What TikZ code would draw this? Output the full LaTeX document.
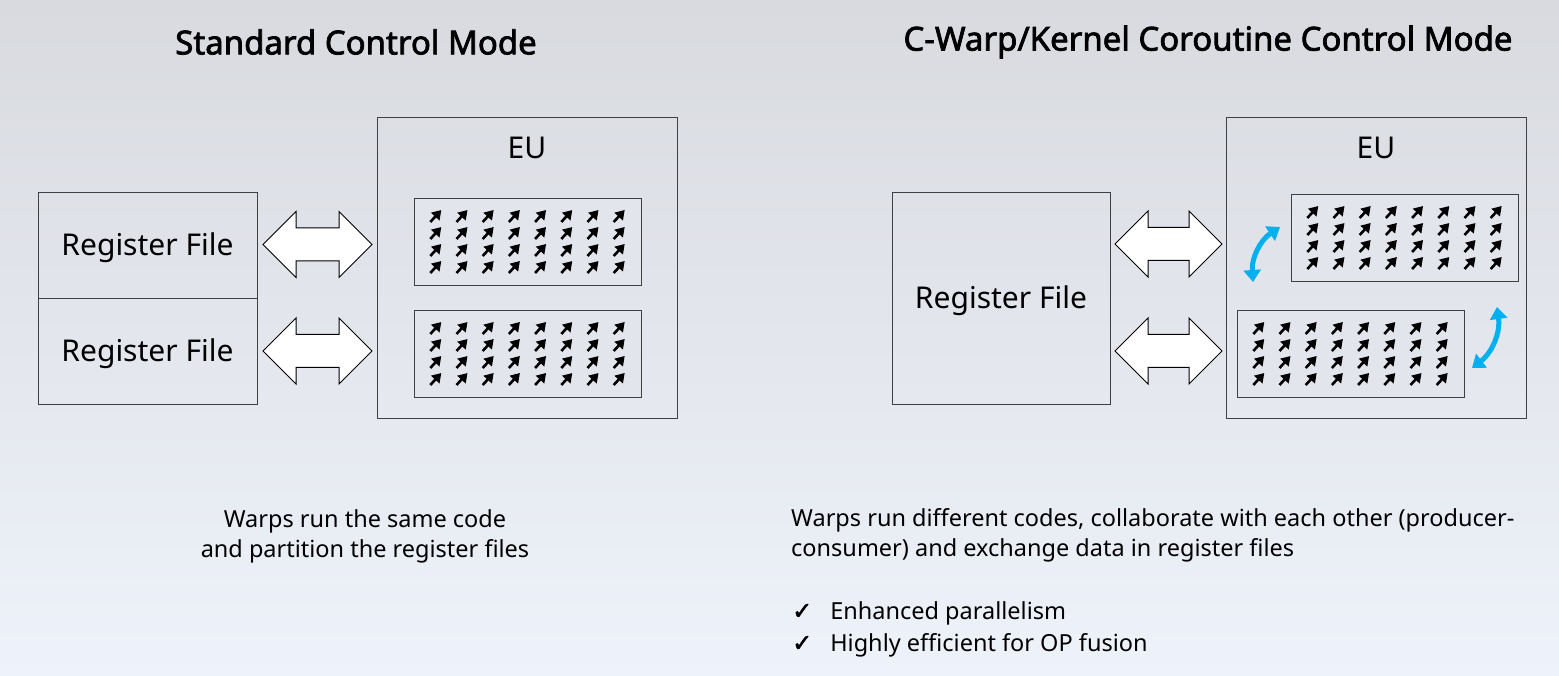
\documentclass[tikz,border=0pt]{standalone}
\usepackage{fontspec}
\setmainfont{Noto Sans}
\newfontfamily\titlefont[FakeBold=2.2]{Noto Sans}
\newfontfamily\symfont[FakeBold=2]{DejaVu Sans}
\usetikzlibrary{arrows.meta,calc}
\definecolor{bgtop}{RGB}{216,218,223}
\definecolor{bgbot}{RGB}{238,242,250}
\definecolor{boxfill}{RGB}{226,229,236}
\definecolor{cyanarr}{RGB}{0,176,240}
\tikzset{
  box/.style={draw=black!75, line width=0.8pt, inner sep=0pt},
  title/.style={font=\titlefont\fontsize{33}{38}\selectfont, anchor=center},
  rftext/.style={font=\fontsize{30}{34}\selectfont},
  eutext/.style={font=\fontsize{30}{34}\selectfont},
  body/.style={font=\fontsize{23.5}{30}\selectfont, inner sep=0pt},
  blockarrow/.style={draw=black, line width=1pt, fill=white, line join=miter},
  glyph/.pic={\draw[line width=2.6pt, -{Triangle[length=9pt,width=11pt]}] (-5.5,6) -- (5.5,-6);},
  swap/.style={draw=cyanarr, line width=5pt, {Triangle[length=12pt,width=17pt]}-{Triangle[length=12pt,width=17pt]}}
}
% block double arrow centred at #1, half-length #2
\newcommand{\blockarrow}[2]{%
  \draw[blockarrow] ($(#1)+(-#2,0)$) -- ++(33,-33) -- ++(0,16.5) -- ($(#1)+(#2-33,-16.5)$) -- ++(0,-16.5)
   -- ($(#1)+(#2,0)$) -- ++(-33,33) -- ++(0,-16.5) -- ($(#1)+(-#2+33,16.5)$) -- ++(0,16.5) -- cycle;}
\newcommand{\glyphgrid}[2]{%
  \foreach \i in {-91.7,-65.5,-39.3,-13.1,13.1,39.3,65.5,91.7}{
    \foreach \j in {-25.5,-8.5,8.5,25.5}{
      \pic at ({#1+\i},{#2+\j}) {glyph};
    }}}
\begin{document}
\begin{tikzpicture}[x=1pt,y=-1pt]
\shade[top color=bgtop, bottom color=bgbot] (0,0) rectangle (1559,676);
\useasboundingbox (0,0) rectangle (1559,676);

% ---------- Left ----------
\node[title] (t1) at (356,42) {Standard Control Mode};
\node[box, minimum width=219pt, minimum height=106pt] (rf1) at (147.5,245) {};
\node[rftext] (rf1l) at (147.5,248) {Register File};
\node[box, minimum width=219pt, minimum height=106pt] (rf2) at (147.5,351) {};
\node[rftext] (rf2l) at (147.5,354) {Register File};
\node[box, minimum width=300pt, minimum height=301pt] (eu1) at (527,267.5) {};
\node[eutext] (eu1l) at (527,148) {EU};
\node[box, fill=boxfill, minimum width=227pt, minimum height=87pt] (w1) at (527.5,241.5) {};
\node[box, fill=boxfill, minimum width=227pt, minimum height=87pt] (w2) at (527.5,353.5) {};
\glyphgrid{527.5}{241.5}
\glyphgrid{527.5}{353.5}
\coordinate (a1) at (317.5,244.5);
\coordinate (a2) at (317.5,351);
\blockarrow{a1}{54.5}
\blockarrow{a2}{54.5}

\node[body, align=center] (d1) at (365,536) {Warps run the same code\\and partition the register files};

% ---------- Right ----------
\node[title] (t2) at (1208,42) {C-Warp/Kernel Coroutine Control Mode};
\node[box, minimum width=218pt, minimum height=212pt] (rf3) at (1001,298) {};
\node[rftext] (rf3l) at (1001,301) {Register File};
\node[box, minimum width=300pt, minimum height=301pt] (eu2) at (1376,267.5) {};
\node[eutext] (eu2l) at (1376,148) {EU};
\node[box, fill=boxfill, minimum width=227pt, minimum height=87pt] (w3) at (1404.5,237.5) {};
\node[box, fill=boxfill, minimum width=227pt, minimum height=87pt] (w4) at (1350.5,353.5) {};
\glyphgrid{1404.5}{237.5}
\glyphgrid{1350.5}{353.5}
\coordinate (a3) at (1168.5,244);
\coordinate (a4) at (1168.5,351);
\blockarrow{a3}{53.5}
\blockarrow{a4}{53.5}

\coordinate (s1a) at (1253,282);
\coordinate (s1b) at (1280,227);
\coordinate (s2a) at (1497,307);
\coordinate (s2b) at (1472,368);
\draw[swap] (s1a) to[bend left=30] (s1b);
\draw[swap] (s2a) to[bend left=30] (s2b);

\node[body, align=left, anchor=west] (d2) at (791,535) {Warps run different codes, collaborate with each other (producer-\\consumer) and exchange data in register files};
\node[body, anchor=west] (c1) at (792,613) {{\symfont\fontsize{24}{24}\selectfont ✓}\hspace{18pt}Enhanced parallelism};
\node[body, anchor=west] (c2) at (792,645) {{\symfont\fontsize{24}{24}\selectfont ✓}\hspace{18pt}Highly efficient for OP fusion};
\end{tikzpicture}
\end{document}
